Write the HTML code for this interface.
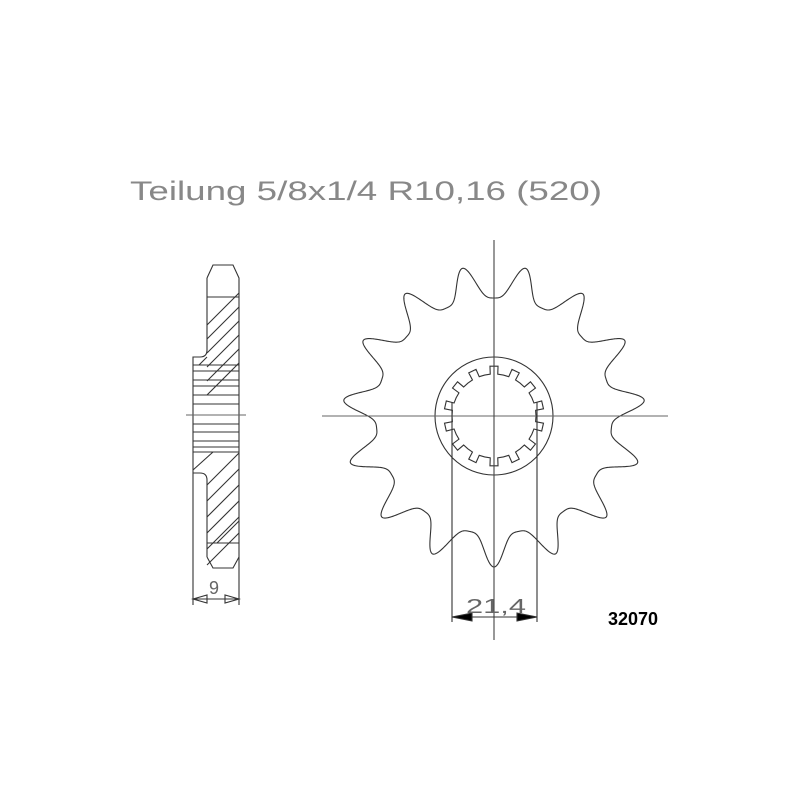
<!DOCTYPE html>
<html><head><meta charset="utf-8"><style>html,body{margin:0;padding:0;background:#fff}svg{display:block}</style></head>
<body>
<svg id="s" width="800" height="800" viewBox="0 0 800 800" xmlns="http://www.w3.org/2000/svg">
<rect width="800" height="800" fill="#fff"/>
<text x="130" y="200" font-family="Liberation Sans, sans-serif" font-size="27" fill="#888" textLength="472" lengthAdjust="spacingAndGlyphs">Teilung 5/8x1/4 R10,16 (520)</text>
<text x="608" y="625" font-family="Liberation Sans, sans-serif" font-size="18" font-weight="bold" fill="#000">32070</text>
<g id="g" fill="none" stroke="#333" stroke-width="1.1"></g>
<text x="466" y="613" font-family="Liberation Sans, sans-serif" font-size="20" fill="#666" textLength="60" lengthAdjust="spacingAndGlyphs">21,4</text>
<text x="209" y="594" font-family="Liberation Sans, sans-serif" font-size="18" fill="#666">9</text>
</svg>
<script>
const g=document.getElementById('g');
function add(tag,attrs){const e=document.createElementNS('http://www.w3.org/2000/svg',tag);for(const k in attrs)e.setAttribute(k,attrs[k]);g.appendChild(e);return e;}
const cx=494,cy=416;
let d='';const N=15,rt=151,rr=118;
for(let i=0;i<=1800;i++){const t=i/1800*2*Math.PI;
 let ph=((t/(2*Math.PI))*N)%1;
 let u=Math.abs(ph-0.5)*2;
 let f=0.5-0.5*Math.cos(Math.PI*Math.pow(u,1.6));
 const r=rr+(rt-rr)*f;
 const x=cx+r*Math.sin(t), y=cy+r*Math.cos(t);
 d+=(i?'L':'M')+x.toFixed(2)+' '+y.toFixed(2);}
add('path',{d:d+'Z'});
add('circle',{cx:cx,cy:cy,r:59});
d='';const M=14;
for(let i=0;i<M;i++){const a0=i*2*Math.PI/M-Math.PI/2;const w=2*Math.PI/M;
 const pts=[[42,a0-w*0.5],[42,a0-w*0.2],[50,a0-w*0.18],[50,a0+w*0.18],[42,a0+w*0.2]];
 pts.forEach((p,j)=>{const x=cx+p[0]*Math.cos(p[1]),y=cy+p[0]*Math.sin(p[1]);d+=((i==0&&j==0)?'M':'L')+x.toFixed(2)+' '+y.toFixed(2);});}
add('path',{d:d+'Z'});
add('line',{x1:322,y1:416,x2:668,y2:416,stroke:'#666'});
add('line',{x1:494,y1:240,x2:494,y2:640,stroke:'#444'});
add('line',{x1:452,y1:402,x2:452,y2:622});
add('line',{x1:537,y1:402,x2:537,y2:622});
add('line',{x1:452,y1:617,x2:537,y2:617});
add('path',{d:'M452 617 L472 613 L472 621Z',fill:'#000'});
add('path',{d:'M537 617 L517 613 L517 621Z',fill:'#000'});
add('path',{d:'M207 278 L213 265 L233 265 L239 278 L239 605'});
add('path',{d:'M207 278 L207 350 Q207 357 200 357 L193 357 L193 605'});
add('path',{d:'M207 557 L213 568 L233 568 L239 557'});
add('path',{d:'M207 557 L207 480 Q207 473 200 473 L193 473'});
add('line',{x1:207,y1:297,x2:239,y2:297});
add('line',{x1:207,y1:543,x2:239,y2:543});
[365,371,380,386,395,404,424,432,441,447,452].forEach(y=>add('line',{x1:193,y1:y,x2:239,y2:y}));
add('line',{x1:186,y1:415,x2:246,y2:415,stroke:'#666'});
for(let k=0;k<6;k++){const s=300+k*14;add('line',{x1:207,y1:s+25,x2:239,y2:s-7});}
add('line',{x1:199,y1:365,x2:207,y2:357});
for(let k=0;k<6;k++){const s=455+k*16;add('line',{x1:207,y1:s+30,x2:239,y2:s-2});}
add('line',{x1:193,y1:470,x2:213,y2:452});
add('line',{x1:217,y1:543,x2:239,y2:521});
add('line',{x1:193,y1:599,x2:239,y2:599});
add('path',{d:'M193 599 L207 595 L207 603Z'});
add('path',{d:'M239 599 L225 595 L225 603Z'});
</script>
</body></html>
